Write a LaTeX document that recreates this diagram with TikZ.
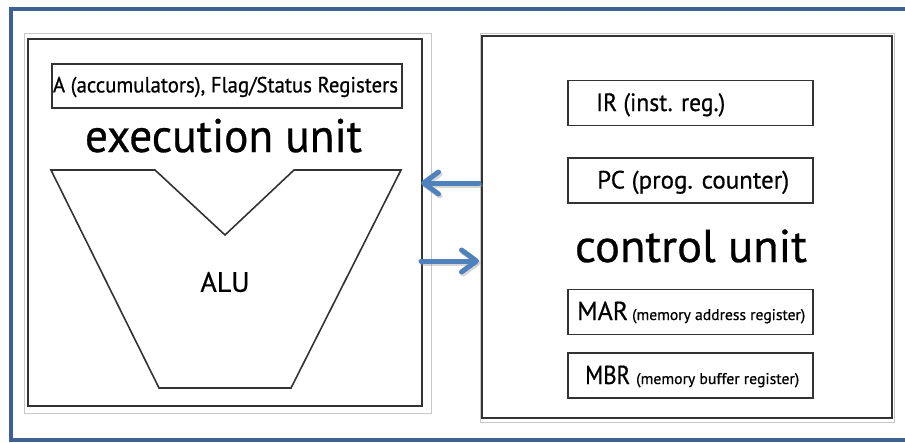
\documentclass[tikz,border=0pt]{standalone}
\usepackage{fontspec}
\setmainfont{PT Sans}[FakeBold=0.6]
\usetikzlibrary{arrows.meta}
\definecolor{frameblue}{HTML}{3E6191}
\definecolor{arrowblue}{HTML}{4F81BD}
\definecolor{lightgray}{HTML}{C8C8C8}
\definecolor{boxblack}{HTML}{333333}
\begin{document}
\begin{tikzpicture}[x=1pt,y=-1pt,
  reg/.style={draw=boxblack,line width=1.6pt,minimum width=245pt,minimum height=45pt,inner sep=0pt},
  unitbox/.style={draw=boxblack,line width=2pt},
  outerthin/.style={draw=lightgray,line width=0.8pt},
  bigarrow/.style={draw=arrowblue,line width=5pt,line cap=round,-{Straight Barb[length=15pt,width=22pt,round]}},
  shadowarrow/.style={draw=black!45,opacity=0.35,line width=5pt,line cap=round,-{Straight Barb[length=15pt,width=22pt,round]}},
  font=\fontsize{22}{26}\selectfont]
\useasboundingbox (0,0) rectangle (905,442);
\fill[white] (0,0) rectangle (905,442);
% outer blue frame
\draw[frameblue,line width=4pt] (908,9) -- (11,9) -- (11,440) -- (908,440);
% execution unit
\draw[outerthin] (24,33) rectangle (431,413);
\draw[unitbox] (28,39) rectangle (422,406);
\node[draw=boxblack,line width=1.6pt,minimum width=350pt,minimum height=44pt,inner sep=0pt] (acc) at (227,86) {};
\node[font=\fontsize{22}{24}\selectfont,inner sep=0pt] (acct) at (225.5,87) {\resizebox{345pt}{\height}{A (accumulators), Flag/Status Registers}};
\node[font=\fontsize{47}{50}\selectfont,anchor=base,inner sep=0pt] (eu) at (223.5,152) {\resizebox{277pt}{\height}{execution unit}};
\draw[boxblack,line width=1.6pt,line join=miter] (51,170) -- (155,170) -- (225,235) -- (294,170) -- (401,170) -- (291,388) -- (159,388) -- cycle;
\node[font=\fontsize{28}{30}\selectfont] (alu) at (225,282) {ALU};
% control unit
\draw[outerthin] (480,33) rectangle (894,422);
\draw[unitbox] (482,36) rectangle (892,418);
\node[reg] (ir) at (690.5,103) {};
\node[anchor=base west,font=\fontsize{25}{30}\selectfont,inner sep=0pt] (irt) at (596,111) {\resizebox{129pt}{\height}{IR (inst. reg.)}};
\node[reg] (pc) at (690.5,180.5) {};
\node[anchor=base west,font=\fontsize{25}{30}\selectfont,inner sep=0pt] (pct) at (597,188.5) {\resizebox{192pt}{\height}{PC (prog. counter)}};
\node[font=\fontsize{46}{50}\selectfont,anchor=base,inner sep=0pt] (cu) at (691,262) {\resizebox{232pt}{\height}{control unit}};
\node[reg] (mar) at (690.5,312) {};
\node[anchor=base west,inner sep=0pt] (mart) at (577,320) {\fontsize{26}{30}\selectfont\resizebox{51pt}{\height}{MAR}\hspace{4pt}\fontsize{15.5}{18}\selectfont\resizebox{173pt}{\height}{(memory address register)}};
\node[reg] (mbr) at (690.5,375.5) {};
\node[anchor=base west,inner sep=0pt] (mbrt) at (585,384) {\fontsize{26}{30}\selectfont\resizebox{45pt}{\height}{MBR}\hspace{6pt}\fontsize{15.5}{18}\selectfont\resizebox{163pt}{\height}{(memory buffer register)}};
% arrows
\coordinate (a1s) at (479,183);
\coordinate (a1e) at (421,183);
\coordinate (a2s) at (421,261);
\coordinate (a2e) at (479,261);
\draw[shadowarrow] ([shift={(1.5,2)}]a1s) -- ([shift={(1.5,2)}]a1e);
\draw[shadowarrow] ([shift={(1.5,2)}]a2s) -- ([shift={(1.5,2)}]a2e);
\draw[bigarrow] (a1s) -- (a1e);
\draw[bigarrow] (a2s) -- (a2e);
\end{tikzpicture}
\end{document}
